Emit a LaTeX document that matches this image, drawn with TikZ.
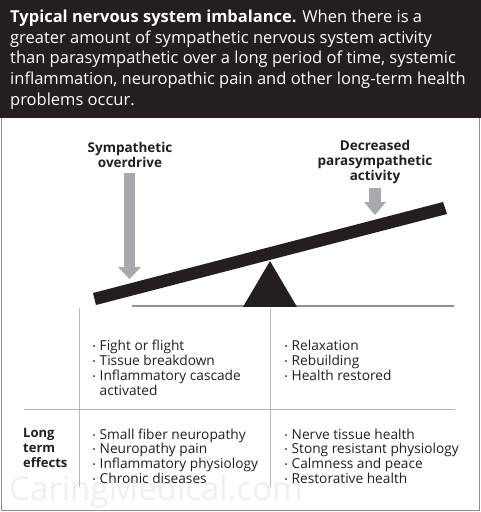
\documentclass[tikz,border=0pt]{standalone}
\usepackage{fontspec}
\setmainfont{Open Sans}
\definecolor{hdr}{HTML}{231F20}
\definecolor{arrowgray}{HTML}{A7A9AC}
\definecolor{linegray}{HTML}{B3B5B8}
\definecolor{groundgray}{HTML}{8E9093}
\definecolor{framegray}{HTML}{8A8C8F}
\definecolor{txt}{HTML}{231F20}
\newcommand\bl{\makebox[7pt][l]{\raisebox{0.15ex}{\fontsize{8}{8}\selectfont •}}}
\begin{document}
\begin{tikzpicture}[x=1pt,y=-1pt,
  title/.style={anchor=north west,inner sep=0pt,align=left,text=white,font=\fontsize{16.5}{20.8}\selectfont},
  head/.style={inner sep=0pt,align=center,text=txt,font=\bfseries\fontsize{13.5}{15}\selectfont},
  items/.style={anchor=north west,inner sep=0pt,align=left,text=txt,font=\fontsize{13.7}{14.8}\selectfont},
  rule/.style={draw=linegray,line width=0.9pt},
  grayarrow/.style={fill=arrowgray,draw=none}]
\useasboundingbox (0,0) rectangle (481,512);
\fill[white] (0,0) rectangle (481,512);
% header
\fill[hdr] (0,0) rectangle (481,118);
\node[title] (t) at (10,9.5) {\textbf{Typical nervous system imbalance.} When there is a\\
greater amount of sympathetic nervous system activity\\
than parasympathetic over a long period of time, systemic\\
inflammation, neuropathic pain and other long-term health\\
problems occur.};
% frame
\draw[framegray,line width=1pt] (1,118) -- (1,510.5) -- (479.5,510.5) -- (479.5,118);
% watermark
\node[anchor=west,inner sep=0pt,text=black!6,font=\fontsize{33}{33}\selectfont] (wm) at (9,492) {CaringMedical.com};
% labels
\node[head] (symp) at (130,155) {Sympathetic\\overdrive};
\node[head] (para) at (375,162) {Decreased\\parasympathetic\\activity};
% arrows
\fill[grayarrow] (124,173) rectangle (135,267);
\fill[grayarrow] (118,267) -- (141,267) -- (129.5,279) -- cycle;
\fill[grayarrow] (369,188) rectangle (381,202);
\fill[grayarrow] (364,202) -- (386,202) -- (375,215) -- cycle;
% ground and fulcrum
\coordinate (g1) at (132,306);
\coordinate (g2) at (454,306);
\draw[groundgray,line width=1.8pt] (g1) -- (g2);
\coordinate (apex) at (270,261);
\fill[hdr] (243,306.9) -- (apex) -- (297,306.9) -- cycle;
% beam
\coordinate (b1) at (93,293);
\coordinate (b2) at (443,202);
\coordinate (b3) at (447,214);
\coordinate (b4) at (96,305);
\fill[hdr] (b1) -- (b2) -- (b3) -- (b4) -- cycle;
% table lines
\coordinate (vl1) at (79,308);
\coordinate (vl2) at (79,487);
\coordinate (vm1) at (270.5,308);
\coordinate (vm2) at (270.5,487);
\coordinate (h1) at (24,409);
\coordinate (h2) at (455,409);
\draw[rule] (vl1) -- (vl2);
\draw[rule] (vm1) -- (vm2);
\draw[rule] (h1) -- (h2);
% items
\node[items] (c1) at (92.5,340) {\bl Fight or flight\\\bl Tissue breakdown\\\bl Inflammatory cascade\\\hspace*{7pt}activated};
\node[items] (c2) at (284.5,340) {\bl Relaxation\\\bl Rebuilding\\\bl Health restored};
\node[items,font=\bfseries\fontsize{13}{14.8}\selectfont] (lt) at (23,428.5) {Long\\term\\effects};
\node[items] (c3) at (92.5,428.5) {\bl Small fiber neuropathy\\\bl Neuropathy pain\\\bl Inflammatory physiology\\\bl Chronic diseases};
\node[items] (c4) at (284.5,428.5) {\bl Nerve tissue health\\\bl Stong resistant physiology\\\bl Calmness and peace\\\bl Restorative health};
\end{tikzpicture}
\end{document}
